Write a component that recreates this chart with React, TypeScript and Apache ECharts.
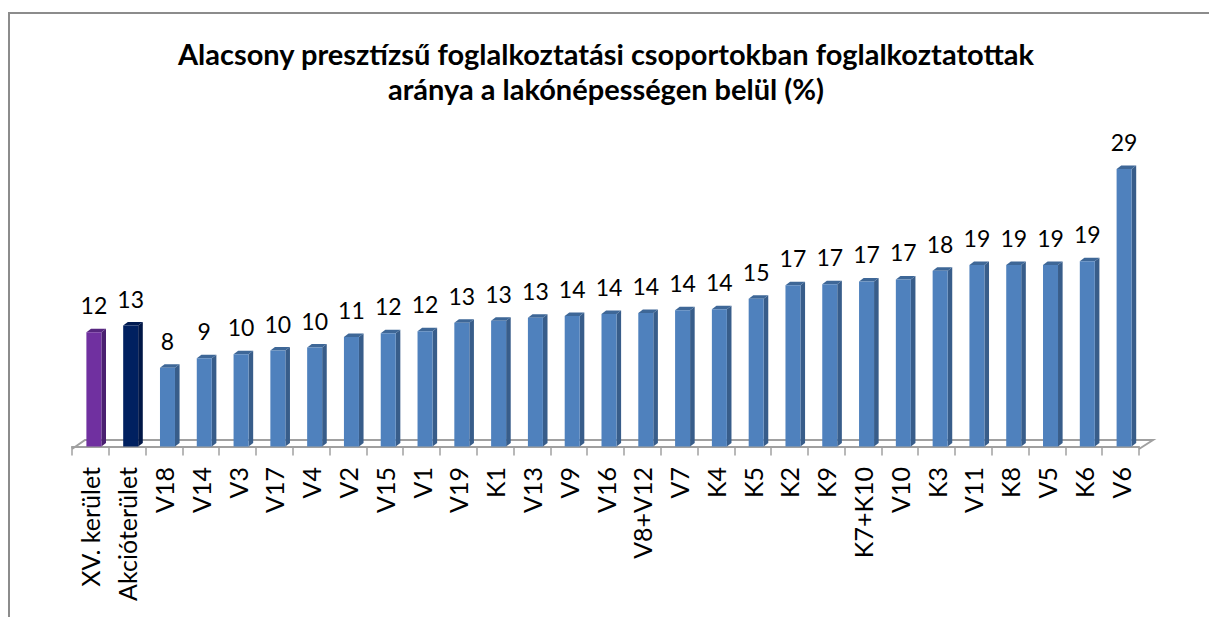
import React, { useEffect, useRef } from "react";
import * as echarts from "echarts";

const categories = ["XV. kerület","Akcióterület","V18","V14","V3","V17","V4","V2","V15","V1","V19","K1","V13","V9","V16","V8+V12","V7","K4","K5","K2","K9","K7+K10","V10","K3","V11","K8","V5","K6","V6"];
const values = [11.9,12.6,8.2,9.2,9.6,10.0,10.3,11.4,11.8,12.0,12.9,13.1,13.4,13.6,13.8,13.9,14.2,14.3,15.4,16.8,16.9,17.2,17.4,18.3,18.9,18.9,18.9,19.3,28.9];
const titleLines = ["Alacsony presztízsű foglalkoztatási csoportokban foglalkoztatottak", "aránya a lakónépességen belül (%)"];
const palette = {
  default: { front: "#4F81BD", side: "#385D8A", top: "#3E6797" },
  0: { front: "#7030A0", side: "#4A2070", top: "#572680" },
  1: { front: "#002060", side: "#001646", top: "#001A50" },
} as Record<string, { front: string; side: string; top: string }>;

const FONT = "Lato, 'Noto Sans', sans-serif";
const GRID = { left: 72, right: 70, top: 158.5, bottom: 170.5 };

export default function App() {
  const ref = useRef<HTMLDivElement>(null);
  useEffect(() => {
    const chart = echarts.init(ref.current!, null, { renderer: "svg" });
    const gray = "#A0A0A0";
    chart.setOption({
      animation: false,
      backgroundColor: "#fff",
      grid: GRID,
      xAxis: {
        type: "category",
        data: categories,
        offset: 2.5,
        axisLine: { lineStyle: { color: gray, width: 2 } },
        axisTick: { show: true, length: 9, alignWithLabel: false, lineStyle: { color: gray, width: 1.5 } },
        axisLabel: { rotate: 90, interval: 0, fontFamily: FONT, fontSize: 25, color: "#000", margin: 18 },
      },
      yAxis: { type: "value", min: 0, max: 30, show: false },
      graphic: [
        { type: "polyline", silent: true, shape: { points: [[9, 617], [9, 13], [1209, 13]] }, style: { fill: "none", stroke: "#8C8C8C", lineWidth: 2 } },
        { type: "polyline", silent: true, z: 0, shape: { points: [[72, 449], [85, 440], [1153, 440], [1139, 449]] }, style: { fill: "none", stroke: gray, lineWidth: 2 } },
        { type: "text", style: { x: 606, y: 53, text: titleLines[0], fontFamily: FONT, fontWeight: "bold", fontSize: 29, fill: "#000", align: "center", verticalAlign: "middle" } },
        { type: "text", style: { x: 606, y: 88, text: titleLines[1], fontFamily: FONT, fontWeight: "bold", fontSize: 29, fill: "#000", align: "center", verticalAlign: "middle" } },
      ],
      series: [
        {
          type: "custom",
          clip: false,
          z: 5,
          data: values.map((v, i) => [i, v]),
          encode: { x: 0, y: 1 },
          renderItem: (params: any, api: any) => {
            const i = api.value(0);
            const v = api.value(1);
            const [cx, top] = api.coord([i, v]);
            const [, base] = api.coord([i, 0]);
            const c = palette[String(params.dataIndex)] || palette.default;
            const x0 = cx - 4;
            const x1 = cx + 11;
            const dx = 4.6;
            const dy = 3.5;
            return {
              type: "group",
              children: [
                { type: "polygon", shape: { points: [[x1, top], [x1 + dx, top - dy], [x1 + dx, base - dy], [x1, base]] }, style: { fill: c.side } },
                { type: "polygon", shape: { points: [[x0, top], [x0 + dx, top - dy], [x1 + dx, top - dy], [x1, top]] }, style: { fill: c.top } },
                { type: "rect", shape: { x: x0, y: top, width: x1 - x0, height: base - top }, style: { fill: c.front } },
                { type: "text", style: { x: cx + 3.5, y: top - 27, text: String(Math.round(v)), fontFamily: FONT, fontSize: 23, fill: "#000", align: "center", verticalAlign: "middle" } },
              ],
            };
          },
        },
      ],
    });
    return () => chart.dispose();
  }, []);
  return <div ref={ref} style={{ width: 1209, height: 617, position: "absolute", left: 0, top: 0 }} />;
}
